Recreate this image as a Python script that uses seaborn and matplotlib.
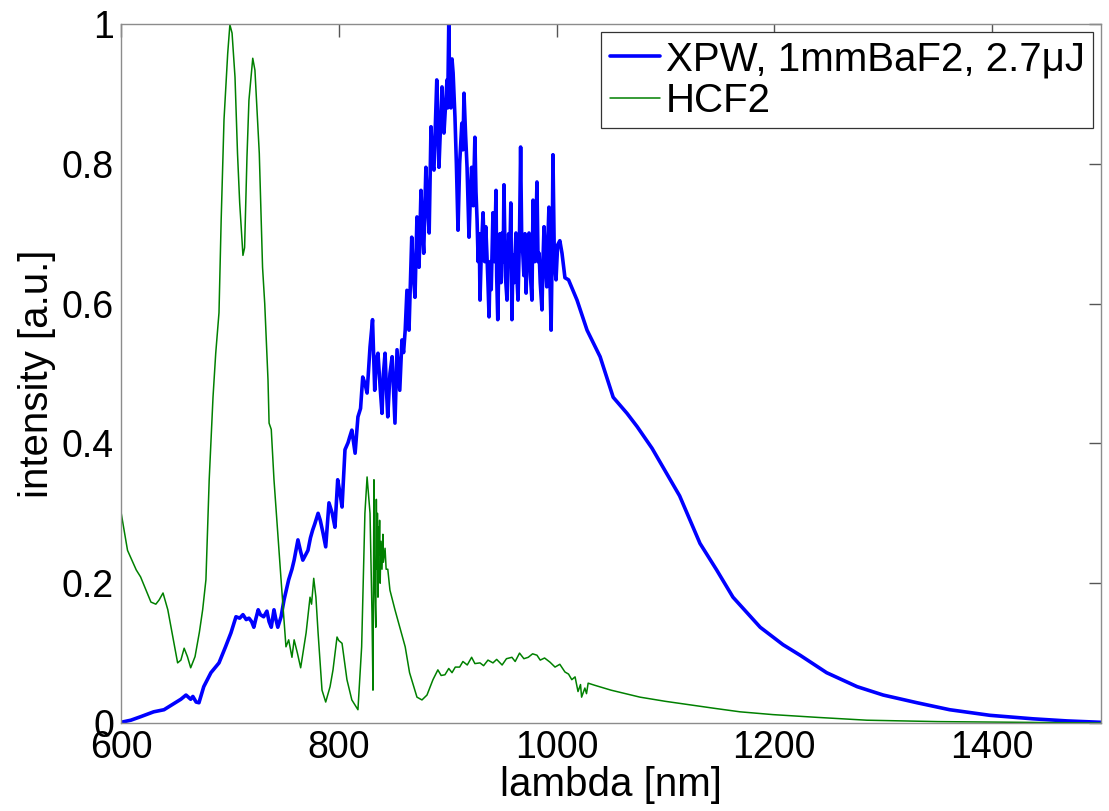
import matplotlib
matplotlib.use("Agg")
import matplotlib.pyplot as plt
import numpy as np
import pandas as pd
import seaborn as sns

# ---------------- data ----------------
xpw_label = "XPW, 1mmBaF2, 2.7\u03bcJ"
hcf_label = "HCF2"

# (wavelength nm, intensity a.u.)
xpw_points = [
    (600, 0.001), (609, 0.004), (618, 0.009), (630, 0.016), (639.5, 0.019),
    (648.7, 0.028), (655, 0.034), (659.7, 0.040), (664, 0.034), (666, 0.038),
    (669, 0.030), (671.6, 0.029), (676, 0.052), (682.6, 0.072), (690, 0.086),
    (696, 0.109), (701, 0.129), (705.6, 0.152), (709, 0.150), (712, 0.155),
    (715, 0.148), (717.5, 0.150), (720, 0.145), (722, 0.137), (724, 0.150),
    (726, 0.162), (728, 0.155), (731, 0.152), (734, 0.160), (736, 0.145),
    (738, 0.137), (740.5, 0.162), (742, 0.150), (744, 0.137), (747, 0.152),
    (749.7, 0.176), (754, 0.205), (757, 0.220), (759, 0.233), (762.5, 0.262),
    (765, 0.245), (767, 0.233), (771.7, 0.247), (774, 0.265), (776, 0.276),
    (778, 0.285), (781, 0.300), (783, 0.290), (785.5, 0.272), (788, 0.252),
    (791, 0.315), (794, 0.300), (796.5, 0.280), (799, 0.348), (801, 0.330),
    (803, 0.309), (805.7, 0.391), (808.5, 0.401), (810, 0.409), (812, 0.419),
    (815, 0.386), (817.6, 0.438), (820, 0.450), (822, 0.495), (824, 0.486),
    (826, 0.472), (828.7, 0.538), (831, 0.577), (833, 0.476), (834.5, 0.52),
    (836, 0.529), (838, 0.48), (839.7, 0.443), (841, 0.50), (842.5, 0.529),
    (844, 0.47), (845, 0.438), (847, 0.50), (849, 0.524), (850.5, 0.47),
    (851.6, 0.429), (853.5, 0.534), (855, 0.50), (856, 0.476), (858, 0.548),
    (859.5, 0.53), (861, 0.562), (862.6, 0.619), (864.5, 0.562), (867, 0.695),
    (868.5, 0.64), (870, 0.609), (871.8, 0.724), (873.7, 0.652), (875.5, 0.762),
    (877, 0.70), (878, 0.672), (880, 0.795), (881.5, 0.74), (883, 0.701),
    (884.7, 0.853), (886, 0.80), (887.4, 0.791), (890, 0.920), (891, 0.85),
    (892, 0.795), (894.8, 0.910), (895.5, 0.87), (896.6, 0.844), (899.4, 0.920),
    (900, 0.88), (901, 0.999), (902, 0.90), (903, 0.880), (904, 0.95),
    (905, 0.930), (906.7, 0.867), (908, 0.80), (909.5, 0.705), (911, 0.80),
    (913, 0.858), (914, 0.82), (915, 0.901), (916.5, 0.84), (917.8, 0.795),
    (919.6, 0.695), (921, 0.76), (922, 0.795), (923.5, 0.74), (925, 0.838),
    (926, 0.76), (927, 0.720), (928, 0.66), (929, 0.70), (929.7, 0.605),
    (931, 0.68), (932.5, 0.730), (934, 0.66), (935, 0.71), (936, 0.672),
    (937, 0.63), (938, 0.581), (939, 0.66), (940, 0.62), (941.6, 0.730),
    (943, 0.66), (944.4, 0.762), (945, 0.64), (946, 0.577), (947, 0.66),
    (948, 0.70), (949, 0.63), (950, 0.701), (951, 0.66), (951.7, 0.770),
    (953, 0.64), (954.5, 0.605), (956, 0.70), (957, 0.66), (958, 0.744),
    (959, 0.577), (960, 0.67), (961, 0.63), (962.7, 0.701), (963.5, 0.64),
    (964.6, 0.605), (966, 0.70), (967, 0.824), (968, 0.69), (969, 0.672),
    (970, 0.64), (971, 0.70), (972, 0.615), (973, 0.67), (974.7, 0.701),
    (976, 0.64), (977.4, 0.605), (978.4, 0.748), (980, 0.66), (981, 0.70),
    (982, 0.774), (983, 0.66), (984, 0.672), (985, 0.63), (986.6, 0.591),
    (987.5, 0.66), (988.5, 0.710), (990, 0.65), (991, 0.624), (992, 0.69),
    (993, 0.738), (994, 0.63), (995, 0.562), (996, 0.68), (996.7, 0.813),
    (998, 0.66), (999.5, 0.634), (1001, 0.684), (1003, 0.690), (1005, 0.672),
    (1007.7, 0.637), (1011, 0.634), (1018.8, 0.605), (1028, 0.562), (1040, 0.524),
    (1052, 0.466), (1064.7, 0.443), (1074, 0.424), (1087.7, 0.393), (1100, 0.360),
    (1113, 0.325), (1131.7, 0.257), (1147, 0.219), (1162, 0.180), (1187, 0.137),
    (1208, 0.112), (1223.6, 0.097), (1248, 0.072), (1276, 0.052), (1300, 0.040),
    (1331, 0.029), (1361, 0.019), (1398, 0.011), (1437.5, 0.006), (1468.7, 0.003),
    (1500, 0.001),
]

hcf_points = [
    (600, 0.302), (606, 0.247), (614, 0.219), (618, 0.209), (623, 0.190),
    (627.5, 0.173), (632, 0.170), (635, 0.176), (638.6, 0.186), (643, 0.162),
    (648, 0.120), (652, 0.086), (655, 0.090), (658, 0.107), (661, 0.095),
    (664, 0.079), (668, 0.095), (672, 0.130), (675, 0.162), (678, 0.205),
    (681, 0.348), (684.5, 0.466), (687, 0.529), (690, 0.587), (692, 0.720),
    (694.6, 0.863), (698, 0.958), (700, 0.999), (702, 0.987), (704.7, 0.924),
    (707, 0.815), (709, 0.744), (712, 0.669), (713.5, 0.680), (715.7, 0.810),
    (717.5, 0.891), (721, 0.951), (723, 0.934), (727, 0.815), (730, 0.652),
    (732, 0.600), (735, 0.491), (736, 0.429), (738, 0.420), (740.5, 0.348),
    (744, 0.270), (747, 0.205), (751.5, 0.109), (754, 0.119), (757, 0.094),
    (759, 0.119), (762, 0.100), (765, 0.079), (770, 0.129), (773.6, 0.180),
    (775, 0.170), (777, 0.207), (779, 0.180), (781, 0.129), (784.6, 0.047),
    (788, 0.030), (792, 0.052), (794.7, 0.076), (798.4, 0.123), (800, 0.118),
    (803, 0.114), (807.5, 0.062), (812, 0.033), (817.6, 0.019), (821, 0.109),
    (824, 0.300), (826, 0.352), (828.7, 0.300), (830.5, 0.157), (831.4, 0.047),
    (832.3, 0.348), (833, 0.200), (834, 0.137), (834.5, 0.320), (835, 0.220),
    (835.5, 0.300), (836, 0.180), (836.5, 0.280), (837, 0.240), (837.5, 0.290),
    (838, 0.200), (838.8, 0.260), (839.7, 0.220), (840.5, 0.270), (841, 0.230),
    (842.5, 0.250), (843.5, 0.220), (845, 0.220), (847, 0.190), (851.6, 0.162),
    (856, 0.137), (861, 0.109), (865, 0.072), (871.8, 0.037), (876.4, 0.033),
    (881, 0.040), (886.5, 0.062), (891, 0.076), (894, 0.068), (897.5, 0.069),
    (901, 0.078), (904, 0.072), (907, 0.080), (911, 0.080), (914, 0.088),
    (918, 0.083), (922, 0.094), (925, 0.085), (929.7, 0.086), (933, 0.082),
    (937, 0.090), (941.6, 0.086), (945, 0.091), (950, 0.083), (954, 0.092),
    (959, 0.094), (962, 0.088), (966, 0.100), (970, 0.092), (974, 0.094),
    (978, 0.099), (982, 0.097), (985, 0.090), (989, 0.093), (994, 0.087),
    (998.6, 0.080), (1003, 0.084), (1007.7, 0.073), (1011, 0.070), (1014, 0.062),
    (1017, 0.066), (1019.7, 0.045), (1022, 0.055), (1023, 0.037), (1026, 0.050),
    (1027.5, 0.042), (1029, 0.057), (1035, 0.054), (1050, 0.047), (1076.6, 0.037),
    (1100, 0.031), (1122.5, 0.026), (1145, 0.021), (1168.5, 0.016), (1198.8, 0.012),
    (1240, 0.008), (1285, 0.004), (1350, 0.002), (1420, 0.001), (1500, 0.000),
]

x_ticks = [600, 800, 1000, 1200, 1400]
x_tick_labels = ["600", "800", "1000", "1200", "1400"]
y_ticks = [0, 0.2, 0.4, 0.6, 0.8, 1.0]
y_tick_labels = ["0", "0.2", "0.4", "0.6", "0.8", "1"]

# ---------------- figure ----------------
sns.set_theme(style="white")
plt.rcParams['font.family'] = ['Liberation Sans', 'DejaVu Sans']
plt.rcParams['text.color'] = 'black'
plt.rcParams['axes.labelcolor'] = 'black'

fig = plt.figure(figsize=(11.09, 8.11), dpi=100)
ax = fig.add_axes([0.1091, 0.1085, 0.8837, 0.8619])

df_xpw = pd.DataFrame(xpw_points, columns=["lambda", "intensity"])
df_hcf = pd.DataFrame(hcf_points, columns=["lambda", "intensity"])

sns.lineplot(data=df_xpw, x="lambda", y="intensity", ax=ax, color="#0000ff",
             lw=2.6, label=xpw_label, estimator=None, sort=False)
sns.lineplot(data=df_hcf, x="lambda", y="intensity", ax=ax, color="#008000",
             lw=1.1, label=hcf_label, estimator=None, sort=False)

ax.set_xlim(600, 1500)
ax.set_ylim(0, 1)
ax.set_xticks(x_ticks)
ax.set_xticklabels(x_tick_labels)
ax.set_yticks(y_ticks)
ax.set_yticklabels(y_tick_labels)
ax.tick_params(axis='both', direction='in', length=9, width=1,
               color='#555555', top=True, right=True, labelsize=27,
               labelcolor='black')
ax.tick_params(axis='x', pad=5)
ax.tick_params(axis='y', pad=5)
for s in ax.spines.values():
    s.set_color('#8c8c8c')
    s.set_linewidth(1.0)

ax.set_xlabel("lambda [nm]", fontsize=29, color='black', labelpad=0)
ax.set_ylabel("intensity [a.u.]", fontsize=29, color='black', labelpad=4)

leg = ax.legend(loc="upper right", fontsize=29, frameon=True, fancybox=False,
                framealpha=1, edgecolor='#333333', borderaxespad=0.2,
                handlelength=1.25, handletextpad=0.15, labelspacing=0.1,
                borderpad=0.2)
leg.get_frame().set_linewidth(0.9)
for t in leg.get_texts():
    t.set_color('black')

fig.savefig("out.png", dpi=100, facecolor='white')
